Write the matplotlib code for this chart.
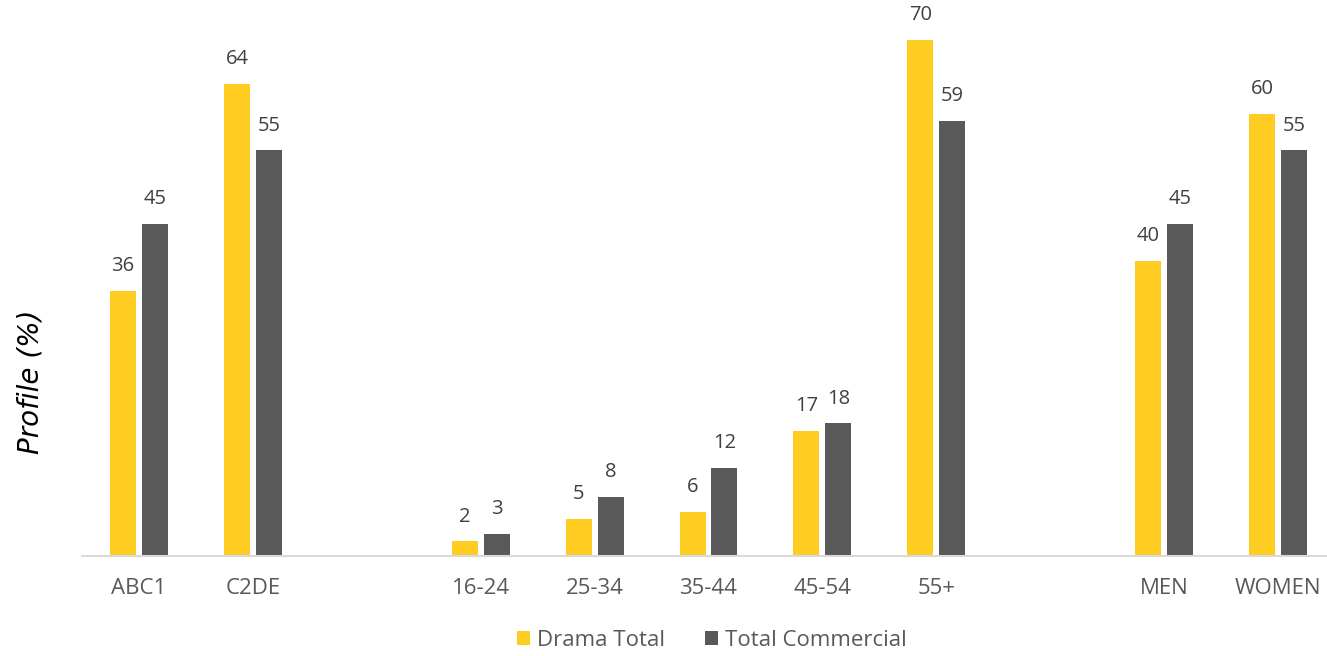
import numpy as np
import matplotlib.pyplot as plt

plt.rcParams['font.family'] = ['Open Sans', 'DejaVu Sans']

categories = ['ABC1', 'C2DE', '', '16-24', '25-34', '35-44', '45-54', '55+', '', 'MEN', 'WOMEN']
drama_total = [36, 64, None, 2, 5, 6, 17, 70, None, 40, 60]
total_commercial = [45, 55, None, 3, 8, 12, 18, 59, None, 45, 55]

YELLOW = '#FFCD22'
GREY = '#595959'

fig = plt.figure(figsize=(13.27, 6.56), dpi=100)
ax = fig.add_axes([82 / 1327, 100 / 656, 1 - 82 / 1327, 556 / 656])

x = np.arange(len(categories))
w = 0.228
off = 0.14
for vals, dx, col, lab in [(drama_total, -off, YELLOW, 'Drama Total'),
                           (total_commercial, off, GREY, 'Total Commercial')]:
    xs = [xi + dx for xi, v in zip(x, vals) if v is not None]
    vs = [v for v in vals if v is not None]
    bars = ax.bar(xs, vs, width=w, color=col, label=lab)
    for b, v in zip(bars, vs):
        ax.text(b.get_x() + b.get_width() / 2, v + 2.0, str(v), ha='center', va='bottom',
                fontsize=14.5, color='#404040')

ax.set_xlim(-0.5, 10.43)
ax.set_ylim(0, 75.4)
ax.set_xticks(x)
ax.set_xticklabels(categories, fontsize=16, color='#595959')
ax.tick_params(axis='x', length=0, pad=16)
ax.set_yticks([])
for s in ['top', 'right', 'left']:
    ax.spines[s].set_visible(False)
ax.spines['bottom'].set_color('#d9d9d9')
ax.spines['bottom'].set_linewidth(1.5)

fig.text(30 / 1327, 1 - 382 / 656, 'Profile (%)', rotation=90, ha='center', va='center',
         fontsize=20, style='italic', color='black', family='DejaVu Sans')

fig.legend(loc='center', bbox_to_anchor=(712 / 1327, 1 - 640 / 656), ncol=2, frameon=False,
           fontsize=16, labelcolor='#595959', handlelength=0.6, handleheight=0.6,
           handletextpad=0.3, columnspacing=1.8)

fig.savefig('out.png', dpi=100)
